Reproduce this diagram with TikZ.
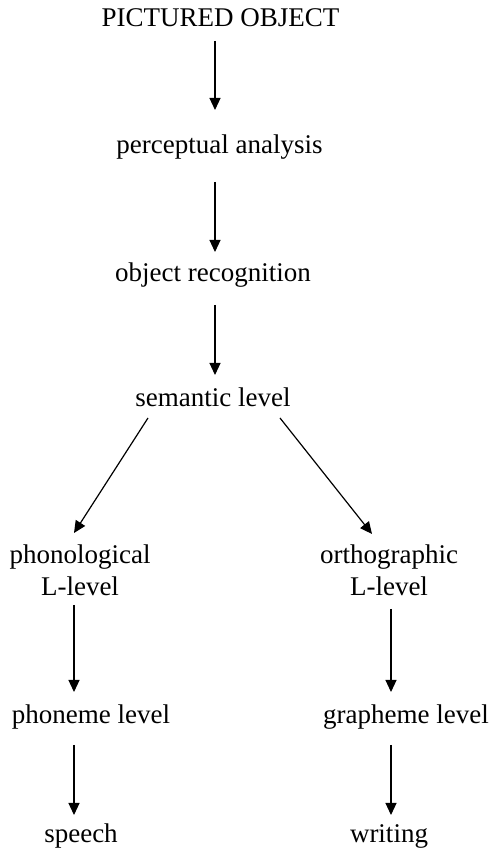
\documentclass[tikz,border=0pt]{standalone}
\usepackage{fontspec}
\setmainfont{Liberation Serif}
\usetikzlibrary{arrows.meta}

\begin{document}
\begin{tikzpicture}[x=1pt, y=1pt,
    lbl/.style={anchor=base, inner sep=0pt, align=center,
        font=\fontsize{27}{32}\selectfont},
    arr/.style={line width=1.2pt, -{Triangle[length=12pt, width=11pt]}}]
    \useasboundingbox (0,0) rectangle (493,854);

    % Levels
    \node[lbl] (pic) at (220.5,827) {PICTURED OBJECT};
    \node[lbl] (perc) at (219.5,700) {perceptual analysis};
    \node[lbl] (objrec) at (213,572) {object recognition};
    \node[lbl] (sem) at (213,447) {semantic level};

    % Two routes (base = last line)
    \node[lbl] (phon) at (80,258) {phonological\\L-level};
    \node[lbl] (orth) at (389,258) {orthographic\\L-level};
    \node[lbl] (phonm) at (91,130) {phoneme level};
    \node[lbl] (graph) at (406,130) {grapheme level};
    \node[lbl] (speech) at (81,12) {speech};
    \node[lbl] (writ) at (389,12) {writing};

    % Arrows
    \draw[arr] ([shift={(-5.5,-14)}]pic.base) -- ([shift={(-4.5,44)}]perc.base);
    \draw[arr] ([shift={(-4.5,-28)}]perc.base) -- ([shift={(2,30)}]objrec.base);
    \draw[arr] ([shift={(2,-23)}]objrec.base) -- ([shift={(2,32)}]sem.base);
    \draw[arr] ([shift={(-65,-11)}]sem.base) -- ([shift={(-6,63)}]phon.base);
    \draw[arr] ([shift={(67,-11)}]sem.base) -- ([shift={(-17,62)}]orth.base);
    \draw[arr] ([shift={(-6,-9)}]phon.base) -- ([shift={(-17,32)}]phonm.base);
    \draw[arr] ([shift={(2,-13)}]orth.base) -- ([shift={(-15,32)}]graph.base);
    \draw[arr] ([shift={(-17,-21)}]phonm.base) -- ([shift={(-7,27)}]speech.base);
    \draw[arr] ([shift={(-15,-21)}]graph.base) -- ([shift={(2,27)}]writ.base);
\end{tikzpicture}
\end{document}
